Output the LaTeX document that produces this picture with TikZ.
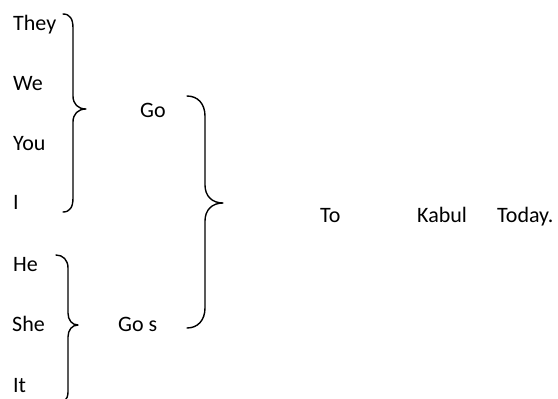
\documentclass[tikz,border=0pt]{standalone}
\usepackage{fontspec}
\setmainfont{Carlito}
\begin{document}
\begin{tikzpicture}[x=1pt,y=-1pt,
  word/.style={anchor=base west,inner sep=0pt,font=\fontsize{22}{26}\selectfont},
  brace/.style={draw=black,line width=1.4pt,line cap=round,line join=round}]
\clip (0,0) rectangle (558,399);
\fill[white] (0,0) rectangle (558,399);
% words
\node[word] (they) at (13,30) {They};
\node[word] (we)   at (13,90) {We};
\node[word] (you)  at (13,150) {You};
\node[word] (i)    at (13,209) {I};
\node[word] (he)   at (13,271) {He};
\node[word] (she)  at (12,331) {She};
\node[word] (it)   at (13,392) {It};
\node[word] (go)   at (140,117) {Go};
\node[word] (gos)  at (118,331) {Go s};
\node[word] (to)   at (320,222) {To};
\node[word] (kabul) at (417,222) {Kabul};
\node[word] (today) at (497,222) {Today.};
% brace 1 (They..I)
\coordinate (b1tip) at (86,109);
\draw[brace] (63,14) .. controls (70,14) and (73,19) .. (73,28) -- (73,96)
  .. controls (73,104) and (78,109) .. (b1tip)
  .. controls (78,109) and (73,114) .. (73,122) -- (73,198)
  .. controls (73,207) and (70,212) .. (63,212);
% brace 2 (Go / Go s)
\coordinate (b2tip) at (223,203);
\draw[brace] (187,96) .. controls (198,96) and (205,104) .. (205,116) -- (205,185)
  .. controls (205,196) and (212,203) .. (b2tip)
  .. controls (212,203) and (205,210) .. (205,221) -- (205,308)
  .. controls (205,320) and (198,328) .. (187,328);
% brace 3 (He..It)
\coordinate (b3tip) at (78,325);
\draw[brace] (56,255) .. controls (63,255) and (68,260) .. (68,268) -- (68,313)
  .. controls (68,320) and (72,325) .. (b3tip)
  .. controls (72,325) and (68,330) .. (68,337) -- (68,392)
  .. controls (68,400) and (63,404) .. (56,404);
\end{tikzpicture}
\end{document}
